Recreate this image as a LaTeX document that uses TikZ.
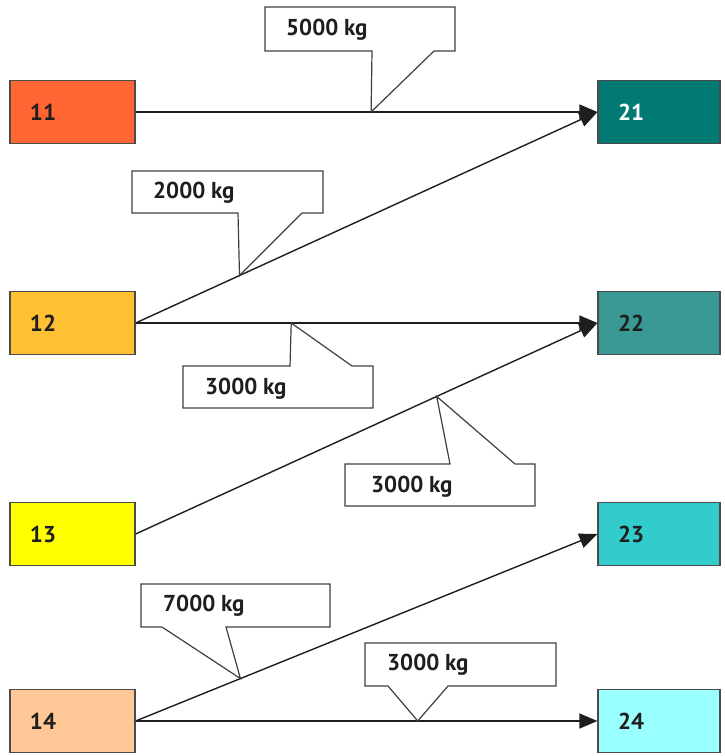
\documentclass[tikz,border=0pt]{standalone}
\usepackage{fontspec}
\setmainfont{PT Sans}
\usepackage{tikz}
\usetikzlibrary{arrows.meta}
\definecolor{c11}{RGB}{255,102,51}
\definecolor{c12}{RGB}{255,192,51}
\definecolor{c13}{RGB}{255,255,0}
\definecolor{c14}{RGB}{255,200,150}
\definecolor{c21}{RGB}{0,122,115}
\definecolor{c22}{RGB}{58,153,148}
\definecolor{c23}{RGB}{51,204,204}
\definecolor{c24}{RGB}{153,255,255}
\definecolor{ink}{RGB}{30,30,30}

\begin{document}
\begin{tikzpicture}[
  x=1pt, y=-1pt,
  box/.style={rectangle, draw=ink!80, line width=1.2pt, minimum height=63pt, inner xsep=20pt, inner ysep=0pt, font=\fontsize{23}{27}\selectfont\bfseries, text=ink},
  src/.style={box, text width=85pt, align=left},
  dst/.style={box, text width=82pt, align=left},
  arr/.style={-{Triangle[length=18pt,width=15pt]}, line width=1.4pt, ink},
  callout/.style={draw=ink!85, fill=white, line width=1.2pt, line join=miter},
  lbl/.style={font=\fontsize{23}{27}\selectfont\bfseries, text=ink, anchor=west, inner sep=0pt}
]
  \useasboundingbox (0,0) rectangle (724,756);

  % sources
  \node[src, fill=c11] (n11) at (72.5,112) {11};
  \node[src, fill=c12] (n12) at (72.5,323) {12};
  \node[src, fill=c13] (n13) at (72.5,534) {13};
  \node[src, fill=c14] (n14) at (72.5,721) {14};

  % destinations
  \node[dst, fill=c21, text=white] (n21) at (659,112) {21};
  \node[dst, fill=c22] (n22) at (659,323) {22};
  \node[dst, fill=c23] (n23) at (659,534) {23};
  \node[dst, fill=c24] (n24) at (659,721) {24};

  % flows
  \draw[arr] (n11.east) -- coordinate[pos=0.51] (p5000) (n21.west);
  \draw[arr] (n12.east) -- coordinate[pos=0.225] (p2000) (n21.west);
  \draw[arr] (n12.east) -- coordinate[pos=0.337] (p3000a) (n22.west);
  \draw[arr] (n13.east) -- coordinate[pos=0.652] (p3000b) (n22.west);
  \draw[arr] (n14.east) -- coordinate[pos=0.227] (p7000) (n23.west);
  \draw[arr] (n14.east) -- coordinate[pos=0.611] (p3000c) (n24.west);

  % callouts
  \draw[callout] (265,7) -- (455,7) -- (455,51) -- (434,51) -- (p5000) -- (372,51) -- (265,51) -- cycle;
  \node[lbl] (l5000) at (286,30) {5000 kg};

  \draw[callout] (132,171) -- (323,171) -- (323,213) -- (302,213) -- (p2000) -- (238,213) -- (132,213) -- cycle;
  \node[lbl] (l2000) at (153,193) {2000 kg};

  \draw[callout] (183,366) -- (290,366) -- (p3000a) -- (352,366) -- (373,366) -- (373,408) -- (183,408) -- cycle;
  \node[lbl] (l3000a) at (205,389) {3000 kg};

  \draw[callout] (345,464) -- (450,464) -- (p3000b) -- (515,464) -- (535,464) -- (535,506) -- (345,506) -- cycle;
  \node[lbl] (l3000b) at (371,487) {3000 kg};

  \draw[callout] (141,584) -- (330,584) -- (330,627) -- (226,627) -- (p7000) -- (162,627) -- (141,627) -- cycle;
  \node[lbl] (l7000) at (163,606) {7000 kg};

  \draw[callout] (365,643) -- (556,643) -- (556,686) -- (448,686) -- (p3000c) -- (388,686) -- (365,686) -- cycle;
  \node[lbl] (l3000c) at (387,665) {3000 kg};
\end{tikzpicture}
\end{document}
